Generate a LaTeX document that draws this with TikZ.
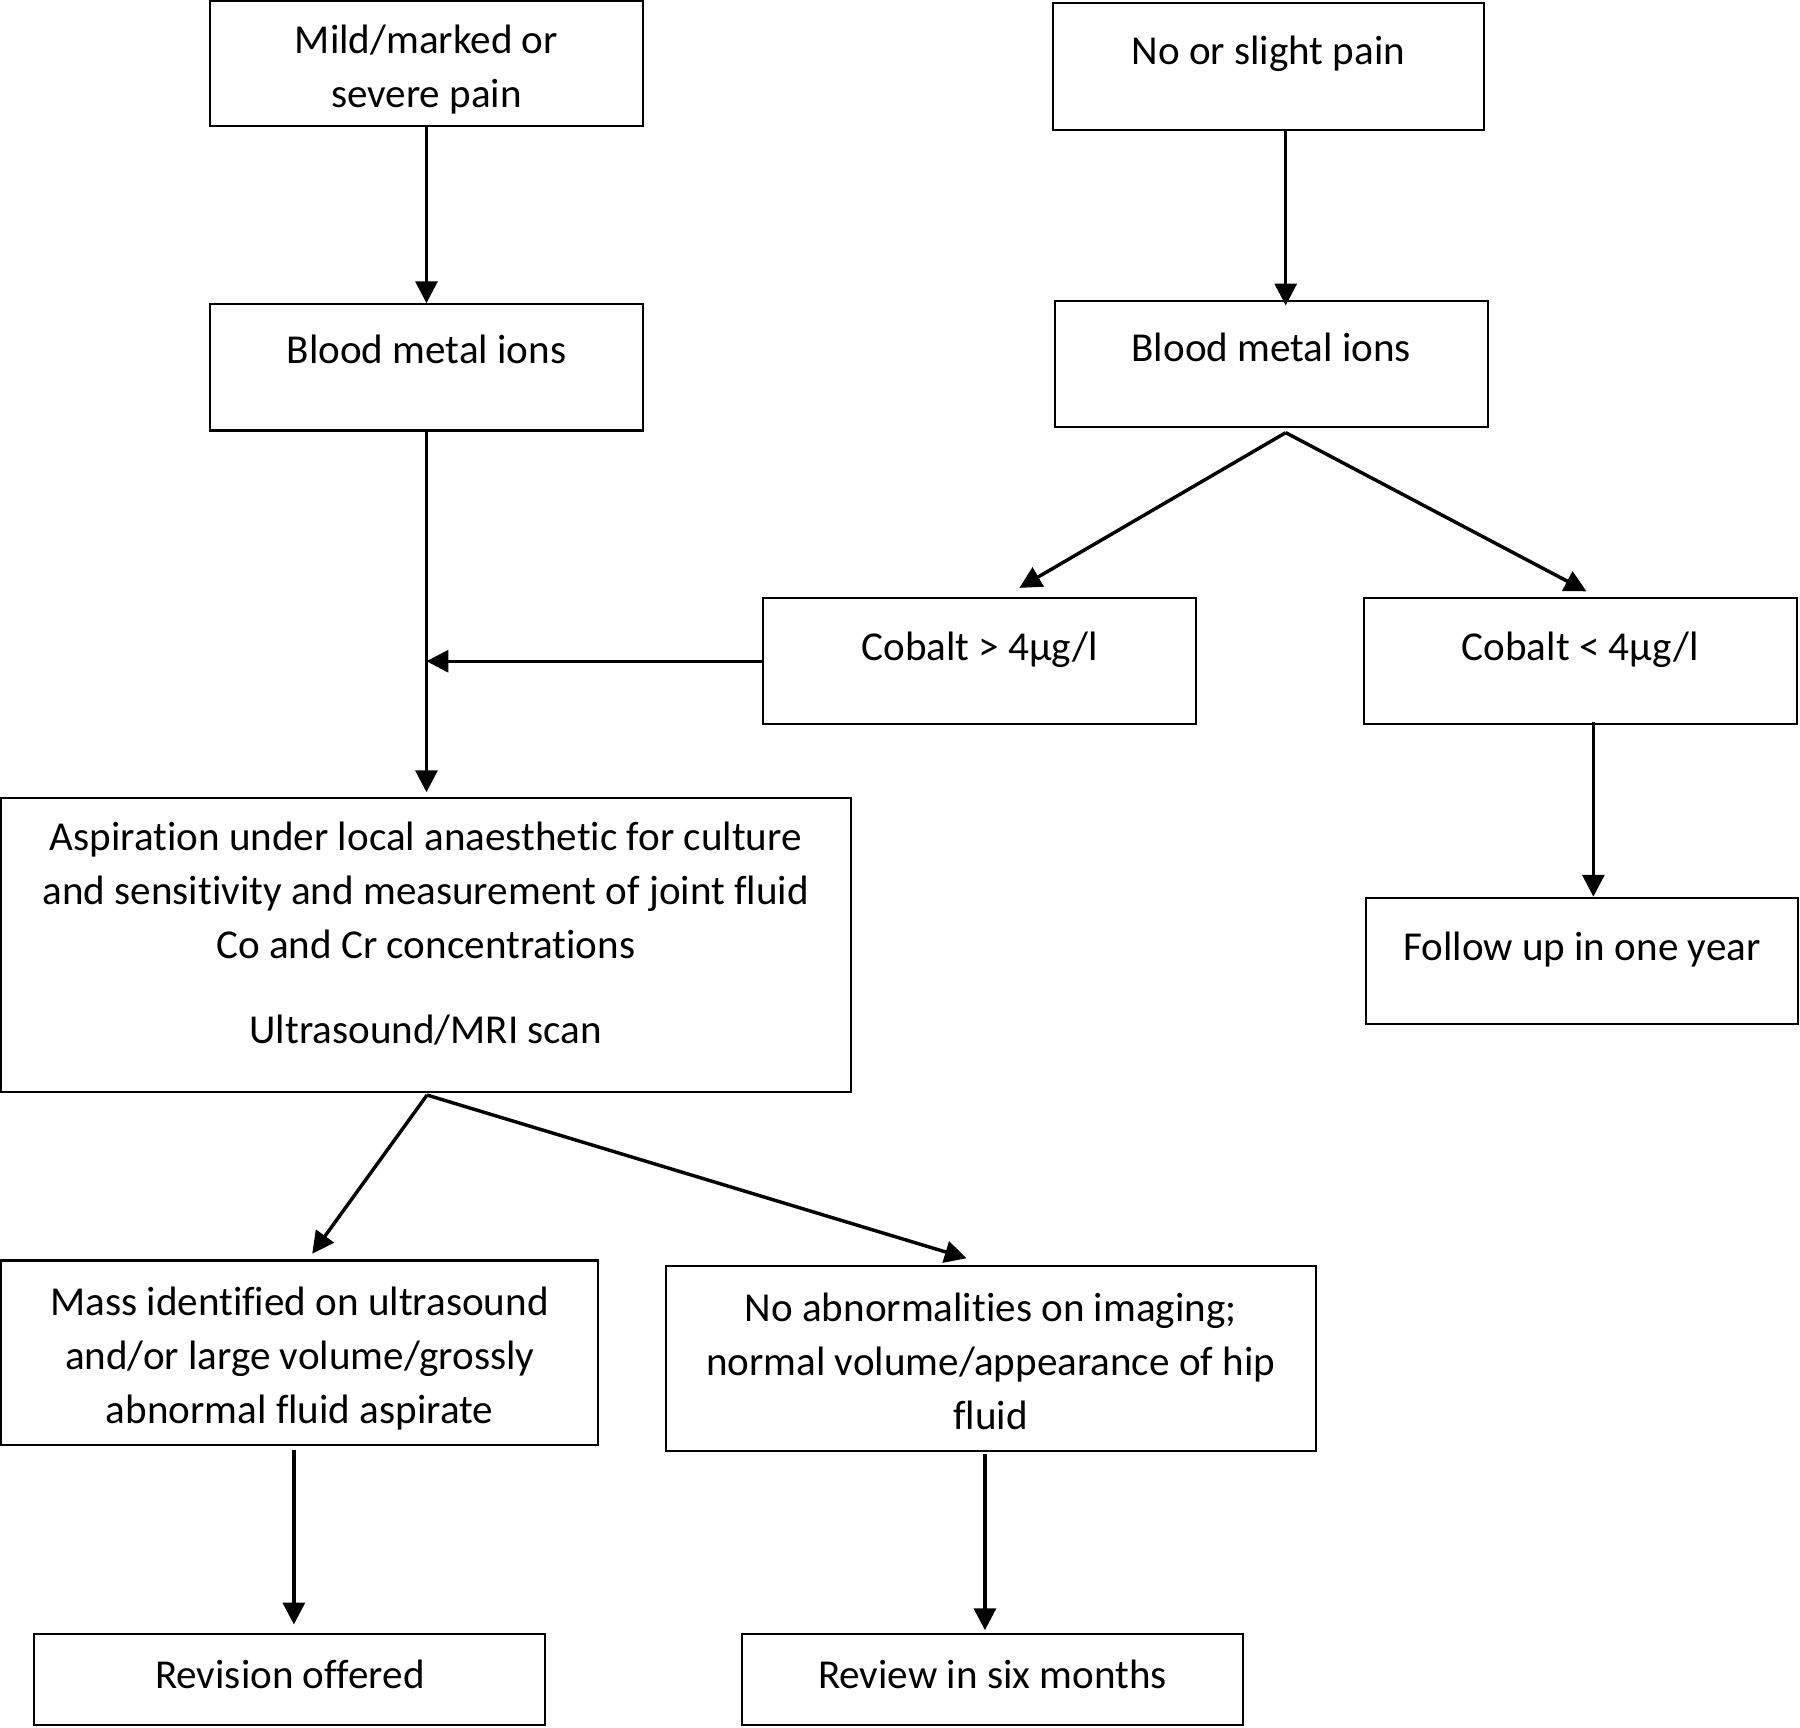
\documentclass[tikz,border=0pt]{standalone}
\usepackage{fontspec}
\setmainfont{Carlito}[Ligatures=CommonOff]
\usetikzlibrary{arrows.meta}
\newcommand\bt[4]{\parbox[c][#2][t]{#1}{\centering\rule{0pt}{#3}#4}}
\begin{document}
\begin{tikzpicture}[x=0.5pt,y=-0.5pt,
  box/.style={draw=black, line width=0.9pt, inner sep=0pt, font=\fontsize{17.9pt}{23.5pt}\selectfont},
  arr/.style={draw=black, line width=1.5pt, -{Triangle[length=9.5pt,width=9.5pt]}}]
\useasboundingbox (0,0) rectangle (1568,1505);
\node[box] (A) at (371.5,55.5) {\bt{188.5pt}{54.5pt}{23pt}{Mild/marked or\\severe pain}};
\node[box] (B) at (1105,58) {\bt{188pt}{55pt}{26.5pt}{No or slight pain}};
\node[box] (C) at (371.5,320) {\bt{188.5pt}{55pt}{26pt}{Blood metal ions}};
\node[box] (D) at (1107.5,317) {\bt{188.5pt}{55pt}{26.25pt}{Blood metal ions}};
\node[box] (E) at (853.5,576) {\bt{188.5pt}{55pt}{27pt}{Cobalt > 4µg/l}};
\node[box] (F) at (1376.5,576) {\bt{188.5pt}{55pt}{27pt}{Cobalt < 4µg/l}};
\node[box] (G) at (371,823) {\bt{370pt}{128pt}{23pt}{Aspiration under local anaesthetic for culture\\and sensitivity and measurement of joint fluid\\Co and Cr concentrations\\[13.3pt]Ultrasound/MRI scan}};
\node[box] (H) at (1378,837) {\bt{188pt}{55pt}{27.5pt}{Follow up in one year}};
\node[box] (I) at (261,1178.5) {\bt{260pt}{80.5pt}{24pt}{Mass identified on ultrasound\\and/or large volume/grossly\\abnormal fluid aspirate}};
\node[box] (J) at (863,1183.5) {\bt{283pt}{80.5pt}{24pt}{No abnormalities on imaging;\\normal volume/appearance of hip\\fluid}};
\node[box] (K) at (252.5,1463) {\bt{222.5pt}{40pt}{24pt}{Revision offered}};
\node[box] (L) at (864.5,1463) {\bt{218.5pt}{40pt}{24pt}{Review in six months}};
\draw[arr] (A.south) -- (C.north);
\draw[arr] ([xshift=7.5pt]B.south) -- ([xshift=6.25pt,yshift=-2.5pt]D.north);
\draw[arr] (C.south) -- ([yshift=2pt]C.south |- G.north);
\draw[arr] (E.west) -- (C.south |- E.west);
\draw[arr] ([xshift=6.25pt,yshift=-2pt]D.south) -- ([xshift=17.25pt,yshift=4pt]E.north);
\draw[arr] ([xshift=6.25pt,yshift=-2pt]D.south) -- ([xshift=2.75pt,yshift=2.5pt]F.north);
\draw[arr] ([xshift=5.75pt,yshift=1.5pt]F.south) -- ([xshift=5pt]H.north);
\draw[arr] ([xshift=0.5pt,yshift=-1pt]G.south) -- ([xshift=5.5pt,yshift=2.5pt]I.north);
\draw[arr] ([xshift=0.5pt,yshift=-1pt]G.south) -- ([xshift=-10.5pt,yshift=3pt]J.north);
\draw[arr] ([xshift=-2.5pt,yshift=-1.5pt]I.south) -- ([xshift=1.75pt,yshift=3.5pt]K.north);
\draw[arr] ([xshift=-2.5pt,yshift=-1pt]J.south) -- ([xshift=-3.25pt,yshift=1pt]L.north);
\end{tikzpicture}
\end{document}
